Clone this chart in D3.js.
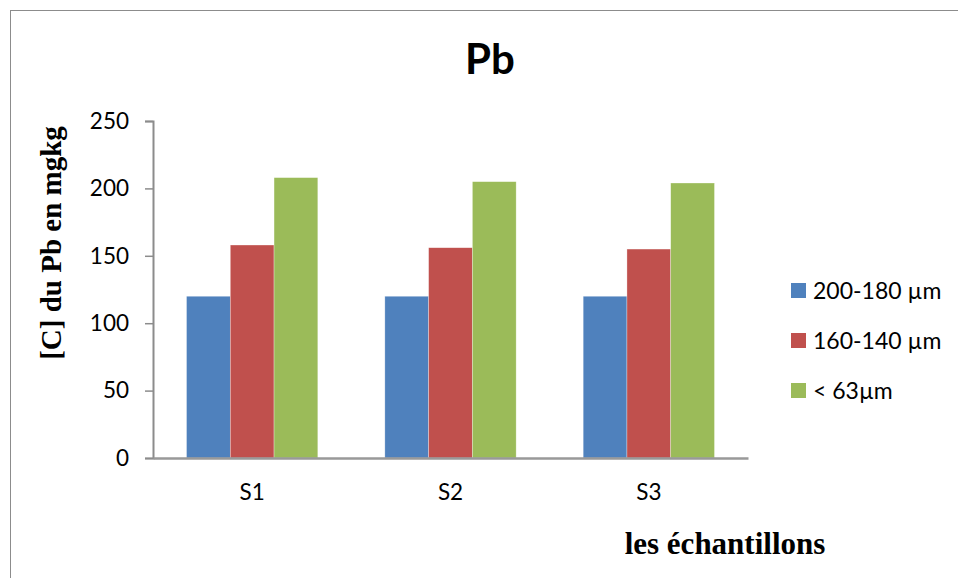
<!DOCTYPE html>
<html>
<head>
<meta charset="utf-8">
<script src="https://d3js.org/d3.v7.min.js"></script>
<style>
  body { margin: 0; background: #fff; }
  text { font-family: Lato, "Liberation Sans", sans-serif; }
</style>
</head>
<body>
<script>
// data
var samples = ["S1", "S2", "S3"];
var fractions = ["200-180 µm", "160-140 µm", "< 63µm"];
var v200_180 = [120, 120, 120];
var v160_140 = [158, 156, 155];
var v63 = [208, 205, 204];
var yTicks = [0, 50, 100, 150, 200, 250];
var colors = ["#4f81bd", "#c0504d", "#9bbb59"];

var series = [v200_180, v160_140, v63];

var W = 958, H = 578;
var mLeft = 153, mRight = 748, mTop = 121, mBottom = 458;

var svg = d3.select("body").append("svg").attr("width", W).attr("height", H);

// outer frame (runs off the page on right and bottom)
svg.append("rect").attr("x", 10.5).attr("y", 10.5).attr("width", 1000).attr("height", 1000)
  .attr("fill", "none").attr("stroke", "#8c8c8c").attr("stroke-width", 1);

var x = d3.scaleBand().domain(samples).range([mLeft, mRight]).paddingInner(0.338).paddingOuter(0.169);
var xs = d3.scaleBand().domain(d3.range(series.length)).range([0, x.bandwidth()]);
var y = d3.scaleLinear().domain([0, 250]).range([mBottom, mTop]);

// bars
samples.forEach(function(s, i) {
  var g = svg.append("g").attr("transform", "translate(" + x(s) + ",0)");
  series.forEach(function(vals, k) {
    g.append("rect")
      .attr("x", xs(k)).attr("y", y(vals[i]))
      .attr("width", xs.bandwidth()).attr("height", y(0) - y(vals[i]))
      .attr("fill", colors[k]).attr("stroke", "rgba(255,255,255,0.5)").attr("stroke-width", 0.6);
  });
});

// y axis
var yAxis = d3.axisLeft(y).tickValues(yTicks).tickSize(8).tickPadding(16);
var ya = svg.append("g").attr("transform", "translate(" + mLeft + ",0)").call(yAxis);
ya.select(".domain").attr("stroke", "#8c8c8c").attr("stroke-width", 2);
ya.selectAll(".tick line").attr("stroke", "#8c8c8c").attr("stroke-width", 1.5);
ya.selectAll(".tick text").attr("font-size", 22.5).attr("fill", "#000").attr("font-family", "Lato");

// x axis
var xAxis = d3.axisBottom(x).tickSize(0).tickPadding(26);
var xa = svg.append("g").attr("transform", "translate(0," + mBottom + ")").call(xAxis);
xa.select(".domain").attr("stroke", "#999").attr("stroke-width", 2.5);
xa.selectAll(".tick text").attr("font-size", 22.5).attr("fill", "#000").attr("font-family", "Lato");

// title
svg.append("text").attr("x", 490).attr("y", 74).attr("text-anchor", "middle")
  .attr("font-size", 42).attr("font-weight", "bold").text("Pb");

// axis titles
svg.append("text").attr("transform", "translate(61,243) rotate(-90)").attr("text-anchor", "middle")
  .style("font-family", "'Liberation Serif', 'Times New Roman', serif")
  .attr("font-size", 29).attr("font-weight", "bold").text("[C] du Pb en mgkg");

svg.append("text").attr("x", 725).attr("y", 554).attr("text-anchor", "middle")
  .style("font-family", "'Liberation Serif', 'Times New Roman', serif")
  .attr("font-size", 31).attr("font-weight", "bold").text("les échantillons");

// legend
var leg = svg.append("g").attr("transform", "translate(791,283)");
fractions.forEach(function(f, k) {
  var row = leg.append("g").attr("transform", "translate(0," + (k * 50) + ")");
  row.append("rect").attr("width", 15).attr("height", 15).attr("fill", colors[k]);
  row.append("text").attr("x", 22).attr("y", 16).attr("font-size", 23).attr("fill", "#000").text(f);
});
</script>
</body>
</html>
